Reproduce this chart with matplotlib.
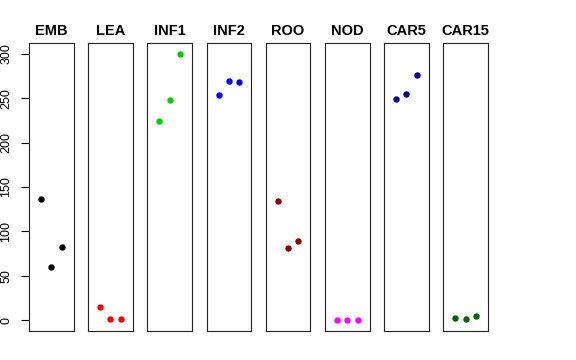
import matplotlib
matplotlib.use("Agg")
import matplotlib.pyplot as plt

plt.rcParams["font.family"] = ["Liberation Sans", "DejaVu Sans"]

# tissues and the three replicate values per tissue
tissues = ["EMB", "LEA", "INF1", "INF2", "ROO", "NOD", "CAR5", "CAR15"]
emb = [137, 60, 82]
lea = [15, 2, 1]
inf1 = [224, 248, 300]
inf2 = [253, 269, 268]
roo = [134, 81, 89]
nod = [0.5, 0.7, 0.2]
car5 = [249, 255, 276]
car15 = [2.3, 1.8, 5.1]
series = [emb, lea, inf1, inf2, roo, nod, car5, car15]
colors = ["black", "red", "#00CD00", "blue", "#8B0000", "magenta", "#00008B", "#006400"]
replicate = [1, 2, 3]
yticks = [0, 50, 100, 150, 200, 250, 300]

fig = plt.figure(figsize=(5.76, 3.6), dpi=100)
W, H = 576, 360
left0, step, width = 29, 59.19, 44.6
top, bottom = 43, 331

for i, (name, vals, col) in enumerate(zip(tissues, series, colors)):
    ax = fig.add_axes([(left0 + i * step) / W, 1 - bottom / H,
                       width / W, (bottom - top) / H])
    ax.plot(replicate, vals, "o", color=col, markersize=4.6, markeredgewidth=0)
    # R style limits: xlim c(0,4), ylim c(0,300) with 4% padding
    ax.set_xlim(-0.16, 4.16)
    ax.set_ylim(-12, 312)
    ax.set_xticks([])
    for sp in ax.spines.values():
        sp.set_linewidth(0.8)
        sp.set_color("#222222")
    if i == 0:
        ax.set_yticks(yticks)
        ax.set_yticklabels([str(t) for t in yticks], rotation=90, va="center")
        ax.tick_params(axis="y", length=5.5, width=0.8, pad=6.5, labelsize=9)
    else:
        ax.set_yticks([])
    ax.set_title(name, fontsize=10.5, fontweight="bold", pad=6)

fig.savefig("out.png", dpi=100)
